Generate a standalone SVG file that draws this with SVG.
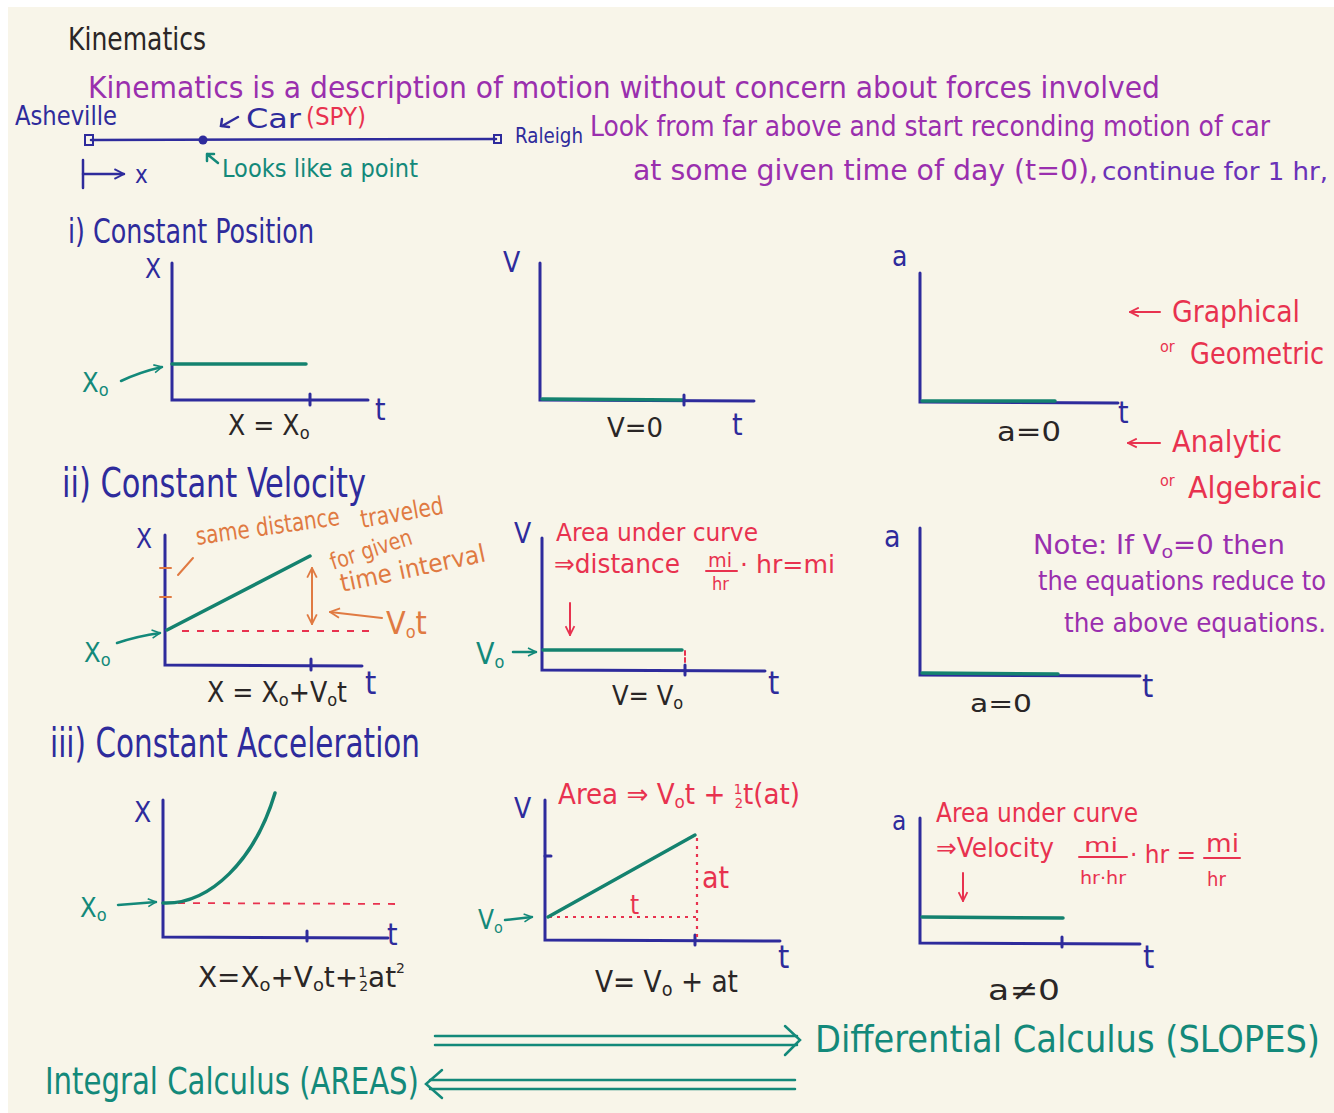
<svg xmlns="http://www.w3.org/2000/svg" width="1334" height="1113" viewBox="0 0 1334 1113">
<defs>
<style>
.t{font-family:"Liberation Sans Narrow","DejaVu Sans Condensed","Liberation Sans",sans-serif}
.bl{fill:#2e2b9c}.pu{fill:#9a2fae}.gn{fill:#13897a}.rd{fill:#e8324f}.or{fill:#e07a42}.bk{fill:#2a2626}
.ax{stroke:#2e2b9c;stroke-width:3;fill:none;stroke-linecap:round}
.cv{stroke:#14826f;stroke-width:3.5;fill:none;stroke-linecap:round}
.gl{stroke:#13897a;stroke-width:2.5;fill:none;stroke-linecap:round}
.rl{stroke:#e8324f;stroke-width:2;fill:none;stroke-linecap:round}
.rdash{stroke:#e8324f;stroke-width:1.8;fill:none;stroke-dasharray:7 8}
.rdot{stroke:#e8324f;stroke-width:2.2;fill:none;stroke-dasharray:3 5}
.ol{stroke:#e07a42;stroke-width:2;fill:none;stroke-linecap:round}
.bline{stroke:#2e2b9c;stroke-width:2.5;fill:none;stroke-linecap:round}
</style>
<marker id="ag" viewBox="0 0 10 10" refX="9" refY="5" markerWidth="10" markerHeight="10" markerUnits="userSpaceOnUse" orient="auto"><path d="M1,1 L9,5 L1,9" fill="none" stroke="#13897a" stroke-width="1.6"/></marker>
<marker id="ar" viewBox="0 0 10 10" refX="9" refY="5" markerWidth="11" markerHeight="11" markerUnits="userSpaceOnUse" orient="auto"><path d="M1,1 L9,5 L1,9" fill="none" stroke="#e8324f" stroke-width="1.6"/></marker>
<marker id="ao" viewBox="0 0 10 10" refX="9" refY="5" markerWidth="12" markerHeight="12" markerUnits="userSpaceOnUse" orient="auto-start-reverse"><path d="M1,1 L9,5 L1,9" fill="none" stroke="#e07a42" stroke-width="1.5"/></marker>
<marker id="ab" viewBox="0 0 10 10" refX="9" refY="5" markerWidth="12" markerHeight="12" markerUnits="userSpaceOnUse" orient="auto"><path d="M1,1 L9,5 L1,9" fill="none" stroke="#2e2b9c" stroke-width="1.6"/></marker>
</defs>
<rect x="0" y="0" width="1334" height="1113" fill="#f8f5e9"/>
<rect x="0" y="0" width="1334" height="7" fill="#ffffff"/>
<rect x="0" y="0" width="8" height="1113" fill="#ffffff"/>

<g id="header">
<text class="t bk" x="68" y="50" font-size="32" textLength="138" lengthAdjust="spacingAndGlyphs">Kinematics</text>
<text class="t pu" x="88" y="98" font-size="31" textLength="1072" lengthAdjust="spacingAndGlyphs">Kinematics is a description of motion without concern about forces involved</text>
<text class="t pu" x="590" y="136" font-size="28" textLength="680" lengthAdjust="spacingAndGlyphs">Look from far above and start reconding motion of car</text>
<text class="t pu" x="633" y="180" font-size="28" textLength="465" lengthAdjust="spacingAndGlyphs">at some given time of day (t=0),</text>
<text class="t" fill="#6a32b8" x="1102" y="180" font-size="24" textLength="226" lengthAdjust="spacingAndGlyphs">continue for 1 hr,</text>
</g>

<g id="road">
<text class="t bl" x="15" y="125" font-size="27" textLength="102" lengthAdjust="spacingAndGlyphs">Asheville</text>
<line class="bline" x1="91" y1="140" x2="496" y2="139"/>
<rect x="85" y="135" width="8" height="10" fill="none" stroke="#2e2b9c" stroke-width="2"/>
<circle cx="203" cy="140" r="4.5" fill="#2e2b9c"/>
<rect x="494" y="135" width="7" height="8" fill="none" stroke="#2e2b9c" stroke-width="2"/>
<text class="t bl" x="515" y="143" font-size="22" textLength="68" lengthAdjust="spacingAndGlyphs">Raleigh</text>
<line class="bline" x1="238" y1="117" x2="222" y2="126"/>
<path d="M222,119 L221,126 L229,127" class="bline" stroke-width="2"/>
<text class="t bl" x="246" y="128" font-size="27" textLength="55" lengthAdjust="spacingAndGlyphs">Car</text>
<text class="t rd" x="306" y="125" font-size="24" textLength="60" lengthAdjust="spacingAndGlyphs">(SPY)</text>
<path d="M207,154 L218,163 M207,154 L207,161 M207,154 L214,154" class="gl" stroke-width="1.8"/>
<text class="t gn" x="222" y="177" font-size="25" textLength="196" lengthAdjust="spacingAndGlyphs">Looks like a point</text>
<line class="bline" x1="83" y1="160" x2="83" y2="188"/>
<line class="bline" x1="83" y1="174" x2="124" y2="174" marker-end="url(#ab)"/>
<text class="t bl" x="135" y="183" font-size="24">x</text>
</g>

<g id="section1">
<text class="t bl" x="68" y="243" font-size="34" textLength="246" lengthAdjust="spacingAndGlyphs">i) Constant Position</text>
</g>

<g id="graph-x-const">
<text class="t bl" x="145" y="278" font-size="26">X</text>
<polyline class="ax" points="172,263 172,400 368,400"/>
<line class="ax" x1="310" y1="394" x2="310" y2="405"/>
<line class="cv" x1="172" y1="364" x2="306" y2="364"/>
<text class="t gn" x="82" y="392" font-size="27">X<tspan font-size="18" dy="4">o</tspan></text>
<path class="gl" d="M121,381 Q140,372 162,367" marker-end="url(#ag)"/>
<text class="t bl" x="375" y="420" font-size="30">t</text>
<text class="t bk" x="228" y="435" font-size="28">X = X<tspan font-size="18" dy="4">o</tspan></text>
</g>

<g id="graph-v-zero">
<text class="t bl" x="503" y="272" font-size="28">V</text>
<polyline class="ax" points="540,263 540,400 754,401"/>
<line class="cv" x1="542" y1="399" x2="684" y2="400"/>
<line class="ax" x1="684" y1="395" x2="684" y2="405"/>
<text class="t bk" x="607" y="437" font-size="26" textLength="56" lengthAdjust="spacingAndGlyphs">V=0</text>
<text class="t bl" x="732" y="435" font-size="30">t</text>
</g>

<g id="graph-a-zero">
<text class="t bl" x="892" y="266" font-size="28">a</text>
<polyline class="ax" points="920,273 920,402 1118,403"/>
<line class="cv" x1="922" y1="401" x2="1055" y2="401"/>
<text class="t bl" x="1118" y="423" font-size="30">t</text>
<text class="t bk" x="997" y="441" font-size="26" textLength="64" lengthAdjust="spacingAndGlyphs">a=0</text>
</g>

<g id="labels-methods">
<line class="rl" x1="1160" y1="312" x2="1130" y2="312" marker-end="url(#ar)"/>
<text class="t rd" x="1172" y="322" font-size="30" textLength="128" lengthAdjust="spacingAndGlyphs">Graphical</text>
<text class="t rd" x="1160" y="352" font-size="16">or</text>
<text class="t rd" x="1190" y="364" font-size="30" textLength="134" lengthAdjust="spacingAndGlyphs">Geometric</text>
<line class="rl" x1="1160" y1="443" x2="1128" y2="443" marker-end="url(#ar)"/>
<text class="t rd" x="1172" y="452" font-size="30" textLength="110" lengthAdjust="spacingAndGlyphs">Analytic</text>
<text class="t rd" x="1160" y="486" font-size="16">or</text>
<text class="t rd" x="1188" y="498" font-size="30" textLength="134" lengthAdjust="spacingAndGlyphs">Algebraic</text>
</g>

<g id="section2">
<text class="t bl" x="62" y="497" font-size="40" textLength="304" lengthAdjust="spacingAndGlyphs">ii) Constant Velocity</text>
</g>

<g id="graph-x-linear">
<text class="t bl" x="136" y="548" font-size="26">X</text>
<polyline class="ax" points="165,535 165,665 362,666"/>
<line class="ax" x1="311" y1="659" x2="311" y2="670"/>
<line class="ol" x1="160" y1="568" x2="171" y2="568"/>
<line class="ol" x1="160" y1="597" x2="171" y2="597"/>
<line class="ol" x1="178" y1="575" x2="193" y2="558"/>
<line class="cv" x1="167" y1="630" x2="310" y2="556"/>
<line class="rdash" x1="182" y1="631" x2="370" y2="631"/>
<line class="ol" x1="312" y1="568" x2="312" y2="624" marker-start="url(#ao)" marker-end="url(#ao)"/>
<line class="ol" x1="382" y1="618" x2="330" y2="612" marker-end="url(#ao)"/>
<text class="t or" x="386" y="634" font-size="32">V<tspan font-size="18" dy="4">o</tspan><tspan dy="-4">t</tspan></text>
<text class="t or" x="197" y="545" font-size="25" transform="rotate(-8 197 545)" textLength="145" lengthAdjust="spacingAndGlyphs">same distance</text>
<text class="t or" x="362" y="528" font-size="25" transform="rotate(-10 362 528)" textLength="84" lengthAdjust="spacingAndGlyphs">traveled</text>
<text class="t or" x="333" y="570" font-size="23" transform="rotate(-18 333 570)" textLength="85" lengthAdjust="spacingAndGlyphs">for given</text>
<text class="t or" x="342" y="592" font-size="25" transform="rotate(-12 342 592)" textLength="148" lengthAdjust="spacingAndGlyphs">time interval</text>
<text class="t gn" x="84" y="662" font-size="27">X<tspan font-size="18" dy="4">o</tspan></text>
<path class="gl" d="M117,643 Q138,636 160,633" marker-end="url(#ag)"/>
<text class="t bk" x="207" y="702" font-size="28" textLength="140" lengthAdjust="spacingAndGlyphs">X = X<tspan font-size="18" dy="4">o</tspan><tspan dy="-4">+V</tspan><tspan font-size="18" dy="4">o</tspan><tspan dy="-4">t</tspan></text>
<text class="t bl" x="365" y="694" font-size="32">t</text>
</g>

<g id="graph-v-const">
<text class="t bl" x="514" y="543" font-size="28">V</text>
<polyline class="ax" points="542,538 542,670 765,671"/>
<line class="cv" x1="543" y1="650" x2="682" y2="650"/>
<line class="rl" x1="685" y1="651" x2="685" y2="669" stroke-dasharray="4 3"/>
<line class="ax" x1="685" y1="665" x2="685" y2="675"/>
<text class="t rd" x="556" y="541" font-size="24" textLength="202" lengthAdjust="spacingAndGlyphs">Area under curve</text>
<text class="t rd" x="554" y="573" font-size="26" textLength="126" lengthAdjust="spacingAndGlyphs">⇒distance</text>
<text class="t rd" x="708" y="567" font-size="20" textLength="24" lengthAdjust="spacingAndGlyphs">mi</text>
<line class="rl" x1="706" y1="571" x2="737" y2="571"/>
<text class="t rd" x="712" y="590" font-size="18">hr</text>
<text class="t rd" x="740" y="573" font-size="24" textLength="95" lengthAdjust="spacingAndGlyphs">· hr=mi</text>
<line class="rl" x1="570" y1="603" x2="570" y2="635" marker-end="url(#ar)"/>
<text class="t gn" x="476" y="664" font-size="30">V<tspan font-size="18" dy="4">o</tspan></text>
<line class="gl" x1="513" y1="652" x2="536" y2="652" marker-end="url(#ag)"/>
<text class="t bk" x="612" y="705" font-size="27">V= V<tspan font-size="18" dy="4">o</tspan></text>
<text class="t bl" x="768" y="694" font-size="32">t</text>
</g>

<g id="graph-a-zero-2">
<text class="t bl" x="884" y="547" font-size="30">a</text>
<polyline class="ax" points="920,528 920,675 1140,676"/>
<line class="cv" x1="922" y1="673" x2="1058" y2="674"/>
<text class="t bl" x="1142" y="697" font-size="32">t</text>
<text class="t bk" x="970" y="712" font-size="25" textLength="62" lengthAdjust="spacingAndGlyphs">a=0</text>
</g>

<g id="note">
<text class="t pu" x="1033" y="554" font-size="26" textLength="252" lengthAdjust="spacingAndGlyphs">Note: If V<tspan font-size="18" dy="4">o</tspan><tspan dy="-4">=0 then</tspan></text>
<text class="t pu" x="1038" y="590" font-size="27" textLength="288" lengthAdjust="spacingAndGlyphs">the equations reduce to</text>
<text class="t pu" x="1064" y="632" font-size="27" textLength="262" lengthAdjust="spacingAndGlyphs">the above equations.</text>
</g>

<g id="section3">
<text class="t bl" x="50" y="757" font-size="40" textLength="370" lengthAdjust="spacingAndGlyphs">iii) Constant Acceleration</text>
</g>

<g id="graph-x-quad">
<text class="t bl" x="134" y="822" font-size="28">X</text>
<polyline class="ax" points="163,800 163,937 388,938"/>
<line class="ax" x1="307" y1="931" x2="307" y2="941"/>
<line class="rdash" x1="178" y1="903" x2="396" y2="904"/>
<path class="cv" d="M163,903 C210,905 255,860 275,793"/>
<text class="t gn" x="80" y="917" font-size="27">X<tspan font-size="18" dy="4">o</tspan></text>
<line class="gl" x1="118" y1="905" x2="156" y2="902" marker-end="url(#ag)"/>
<text class="t bl" x="387" y="945" font-size="30">t</text>
<text class="t bk" x="198" y="987" font-size="28" textLength="207" lengthAdjust="spacingAndGlyphs">X=X<tspan font-size="18" dy="4">o</tspan><tspan dy="-4">+V</tspan><tspan font-size="18" dy="4">o</tspan><tspan dy="-4">t+</tspan><tspan font-size="14" dy="-10">1</tspan><tspan dx="-7" font-size="14" dy="14">2</tspan><tspan dy="-4">at</tspan><tspan font-size="14" dy="-14">2</tspan></text>
</g>

<g id="graph-v-linear">
<text class="t bl" x="514" y="818" font-size="28">V</text>
<polyline class="ax" points="545,800 545,940 780,941"/>
<line class="ax" x1="545" y1="856" x2="551" y2="856"/>
<line class="ax" x1="695" y1="935" x2="695" y2="945"/>
<line class="rdot" x1="549" y1="917" x2="697" y2="917"/>
<line class="rdot" x1="697" y1="838" x2="697" y2="940"/>
<line class="cv" x1="548" y1="917" x2="695" y2="835"/>
<text class="t rd" x="702" y="888" font-size="30">at</text>
<text class="t rd" x="630" y="914" font-size="26">t</text>
<text class="t gn" x="478" y="929" font-size="26">V<tspan font-size="16" dy="4">o</tspan></text>
<line class="gl" x1="505" y1="920" x2="532" y2="917" marker-end="url(#ag)"/>
<text class="t rd" x="558" y="804" font-size="28" textLength="242" lengthAdjust="spacingAndGlyphs">Area ⇒ V<tspan font-size="18" dy="4">o</tspan><tspan dy="-4">t + </tspan><tspan font-size="14" dy="-10">1</tspan><tspan dx="-7" font-size="14" dy="14">2</tspan><tspan dy="-4">t(at)</tspan></text>
<text class="t bk" x="595" y="992" font-size="30" textLength="143" lengthAdjust="spacingAndGlyphs">V= V<tspan font-size="20" dy="4">o</tspan><tspan dy="-4"> + at</tspan></text>
<text class="t bl" x="778" y="968" font-size="32">t</text>
</g>

<g id="graph-a-const">
<text class="t bl" x="892" y="830" font-size="26">a</text>
<polyline class="ax" points="920,818 920,943 1140,944"/>
<line class="ax" x1="1062" y1="937" x2="1062" y2="947"/>
<line class="cv" x1="922" y1="917" x2="1063" y2="918"/>
<text class="t rd" x="936" y="822" font-size="26" textLength="202" lengthAdjust="spacingAndGlyphs">Area under curve</text>
<text class="t rd" x="936" y="857" font-size="26" textLength="118" lengthAdjust="spacingAndGlyphs">⇒Velocity</text>
<text class="t rd" x="1084" y="852" font-size="20" textLength="34" lengthAdjust="spacingAndGlyphs">mi</text>
<line class="rl" x1="1079" y1="857" x2="1127" y2="857"/>
<text class="t rd" x="1080" y="884" font-size="18" textLength="46" lengthAdjust="spacingAndGlyphs">hr·hr</text>
<text class="t rd" x="1130" y="863" font-size="24" textLength="66" lengthAdjust="spacingAndGlyphs">· hr =</text>
<text class="t rd" x="1206" y="852" font-size="24" textLength="33" lengthAdjust="spacingAndGlyphs">mi</text>
<line class="rl" x1="1204" y1="858" x2="1240" y2="858"/>
<text class="t rd" x="1207" y="886" font-size="20">hr</text>
<line class="rl" x1="963" y1="873" x2="963" y2="901" marker-end="url(#ar)"/>
<text class="t bl" x="1143" y="968" font-size="32">t</text>
<text class="t bk" x="988" y="1000" font-size="28" textLength="72" lengthAdjust="spacingAndGlyphs">a≠0</text>
</g>

<g id="connectors">
<line class="gl" x1="435" y1="1036" x2="797" y2="1036"/>
<line class="gl" x1="435" y1="1045" x2="797" y2="1045"/>
<path class="gl" d="M785,1026 L800,1040 L785,1055"/>
<line class="gl" x1="430" y1="1080" x2="795" y2="1080"/>
<line class="gl" x1="430" y1="1089" x2="795" y2="1089"/>
<path class="gl" d="M442,1070 L426,1084 L442,1098"/>
</g>

<g id="calculus">
<text class="t gn" x="815" y="1052" font-size="38" textLength="505" lengthAdjust="spacingAndGlyphs">Differential Calculus (SLOPES)</text>
<text class="t gn" x="45" y="1094" font-size="38" textLength="374" lengthAdjust="spacingAndGlyphs">Integral Calculus (AREAS)</text>
</g>
</svg>
